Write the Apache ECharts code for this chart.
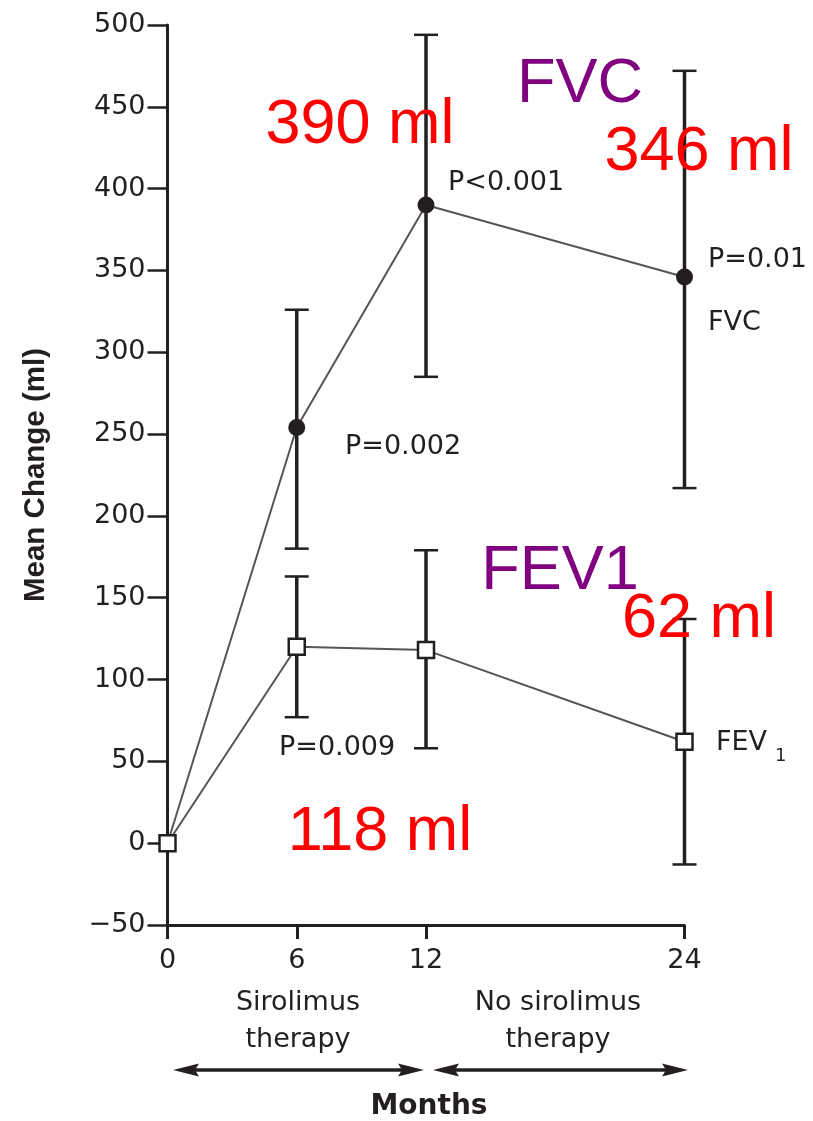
<!DOCTYPE html>
<html>
<head>
<meta charset="utf-8">
<script src="https://cdn.jsdelivr.net/npm/echarts@6/dist/echarts.min.js"></script>
<style>
html,body{margin:0;padding:0;background:#fff;}
#chart{width:813px;height:1121px;}
</style>
</head>
<body>
<div id="chart"></div>
<script>
// ---- data ----
const months = [0, 6, 12, 24];
const xTickValues = [0, 6, 12, 24];
const fvcMean = [0, 254, 390, 346];
const fvcLow  = [null, 180, 285, 217];
const fvcHigh = [null, 326, 494, 472];
const fev1Mean = [0, 120, 118, 62];
const fev1Low  = [null, 77, 58, -13];
const fev1High = [null, 163, 179, 137];
const yMin = -50, yMax = 500, yStep = 50;

const INK = '#231f20';
const chart = echarts.init(document.getElementById('chart'));

function errData(low, high) {
  const out = [];
  months.forEach((m, i) => { if (low[i] !== null) out.push([m, low[i], high[i]]); });
  return out;
}
function errRender(params, api) {
  const x = api.value(0), lo = api.value(1), hi = api.value(2);
  const a = api.coord([x, lo]), b = api.coord([x, hi]);
  const h = 12;
  const st = { stroke: INK, lineWidth: 3.5 };
  const cs = { stroke: INK, lineWidth: 2.5 };
  return { type: 'group', children: [
    { type: 'line', shape: { x1: a[0], y1: a[1], x2: b[0], y2: b[1] }, style: st },
    { type: 'line', shape: { x1: a[0] - h, y1: a[1], x2: a[0] + h, y2: a[1] }, style: cs },
    { type: 'line', shape: { x1: b[0] - h, y1: b[1], x2: b[0] + h, y2: b[1] }, style: cs }
  ]};
}

const smallFont = { fontFamily: 'DejaVu Sans', fontSize: 27, fill: INK };
function txt(x, y, text, style) {
  return { type: 'text', x: x, y: y, z: 10, style: Object.assign({ text: text, textVerticalAlign: 'middle' }, style) };
}
const bigRed = { fontFamily: 'Liberation Sans, Arial', fontSize: 63, fill: '#ff0000', textAlign: 'center' };
const bigPurple = { fontFamily: 'Liberation Sans, Arial', fontSize: 63, fill: '#800080', textAlign: 'center' };

const arrowY = 1070;
function arrow(x1, x2) {
  return [
    { type: 'line', shape: { x1: x1 + 10, y1: arrowY, x2: x2 - 10, y2: arrowY }, style: { stroke: INK, lineWidth: 3.5 } },
    { type: 'polygon', shape: { points: [[x1, arrowY], [x1 + 26, arrowY - 6.5], [x1 + 22, arrowY], [x1 + 26, arrowY + 6.5]] }, style: { fill: INK } },
    { type: 'polygon', shape: { points: [[x2, arrowY], [x2 - 26, arrowY - 6.5], [x2 - 22, arrowY], [x2 - 26, arrowY + 6.5]] }, style: { fill: INK } }
  ];
}

const option = {
  backgroundColor: '#ffffff',
  animation: false,
  grid: { left: 167.5, right: 128.5, top: 25, bottom: 196, containLabel: false },
  xAxis: {
    type: 'value', min: 0, max: 24,
    axisLine: { onZero: false, lineStyle: { color: INK, width: 3 } },
    axisTick: { customValues: xTickValues, length: 14, lineStyle: { color: INK, width: 3 } },
    axisLabel: { customValues: xTickValues, margin: 22, color: INK, fontFamily: 'DejaVu Sans', fontSize: 27 },
    splitLine: { show: false }
  },
  yAxis: {
    type: 'value', min: yMin, max: yMax, interval: yStep,
    axisLine: { show: true, onZero: false, lineStyle: { color: INK, width: 3 } },
    axisTick: { show: true, length: 20, lineStyle: { color: INK, width: 2.5 } },
    axisLabel: { margin: 22, color: INK, fontFamily: 'DejaVu Sans', fontSize: 27,
      formatter: v => String(v).replace('-', '\u2212') },
    splitLine: { show: false }
  },
  series: [
    { type: 'custom', name: 'FVC err', z: 2, renderItem: errRender, data: errData(fvcLow, fvcHigh) },
    { type: 'custom', name: 'FEV1 err', z: 2, renderItem: errRender, data: errData(fev1Low, fev1High) },
    {
      type: 'line', name: 'FVC', z: 3,
      symbol: 'circle', symbolSize: 17,
      itemStyle: { color: INK },
      lineStyle: { color: '#555', width: 2 },
      data: months.map((m, i) => i === 0 ? { value: [m, fvcMean[i]], symbol: 'none' } : [m, fvcMean[i]])
    },
    {
      type: 'line', name: 'FEV1', z: 4,
      symbol: 'rect', symbolSize: 16,
      itemStyle: { color: '#ffffff', borderColor: INK, borderWidth: 2.5 },
      lineStyle: { color: '#555', width: 2 },
      data: months.map((m, i) => [m, fev1Mean[i]])
    }
  ],
  graphic: [
    { type: 'text', x: 36, y: 475, rotation: Math.PI / 2, z: 10,
      style: { text: 'Mean Change (ml)', fontFamily: 'Liberation Sans, Arial', fontWeight: 'bold', fontSize: 29.5, fill: INK, textAlign: 'center', textVerticalAlign: 'middle' } },
    txt(429, 1107, 'Months', { fontFamily: 'DejaVu Sans', fontWeight: 'bold', fontSize: 28, fill: INK, textAlign: 'center' }),
    txt(298, 1003, 'Sirolimus', Object.assign({}, smallFont, { textAlign: 'center' })),
    txt(298, 1040, 'therapy', Object.assign({}, smallFont, { textAlign: 'center' })),
    txt(558, 1003, 'No sirolimus', Object.assign({}, smallFont, { textAlign: 'center' })),
    txt(558, 1040, 'therapy', Object.assign({}, smallFont, { textAlign: 'center' })),
    ...arrow(173, 424),
    ...arrow(433, 688),
    txt(448, 183, 'P<0.001', smallFont),
    txt(708, 259.5, 'P=0.01', smallFont),
    txt(708, 323, 'FVC', smallFont),
    txt(345, 447, 'P=0.002', smallFont),
    txt(279, 748, 'P=0.009', smallFont),
    txt(716, 743, 'FEV', smallFont),
    txt(775, 756, '1', Object.assign({}, smallFont, { fontSize: 18 })),
    txt(360, 126, '390 ml', bigRed),
    txt(580, 85, 'FVC', bigPurple),
    txt(699, 153, '346 ml', bigRed),
    txt(560, 571.5, 'FEV1', bigPurple),
    txt(699, 619.5, '62 ml', bigRed),
    txt(380, 832.5, '118 ml', bigRed)
  ]
};
chart.setOption(option);
</script>
</body>
</html>
